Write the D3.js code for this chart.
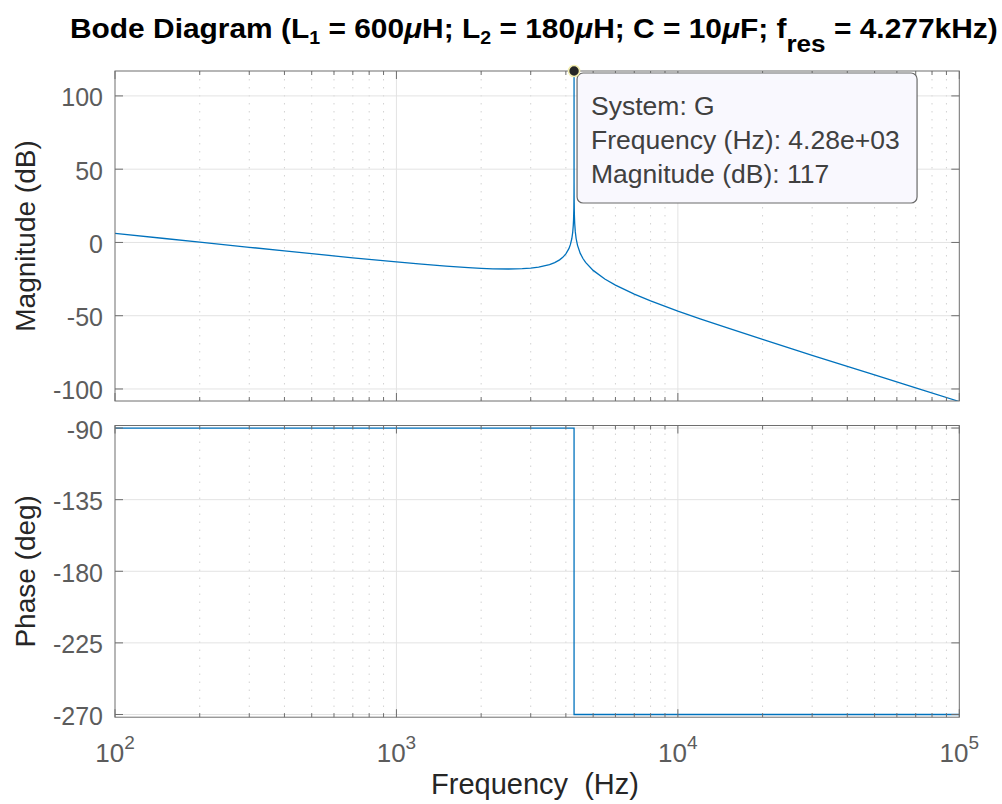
<!DOCTYPE html>
<html><head><meta charset="utf-8">
<script src="https://cdn.jsdelivr.net/npm/d3@7"></script>
<style>body{margin:0;background:#fff} svg{display:block}</style>
</head><body><svg id="c" width="1002" height="804"></svg>
<script>
// ---- data ----
const freqHz = [100,150,200,300,400,500,700,1000,1200,1500,1800,2000,2200,2500,2800,3000,3200,3500,3650,3800,3900,4000,4100,4150,4200,4230,4250,4260,4270,4275,4276,4277,4278,4280,4285,4290,4300,4320,4350,4400,4500,4600,4700,5000,5500,6000,7000,8000,10000,12000,15000,20000,30000,40000,50000,70000,100000];
const magDb = [6.20,2.68,0.19,-3.30,-5.77,-7.66,-10.47,-13.32,-14.68,-16.19,-17.22,-17.68,-17.98,-18.13,-17.89,-17.46,-16.78,-15.07,-13.73,-11.87,-10.16,-7.81,-4.24,-1.51,2.68,6.88,11.63,15.62,23.3,34.16,40.2,117,40.2,30.6,22.1,17.86,12.87,7.38,2.69,-1.99,-7.46,-10.96,-13.59,-19.07,-24.92,-29.09,-35.21,-39.82,-46.81,-52.13,-58.35,-66.22,-77.01,-84.58,-90.43,-99.24,-108.54];
const phaseFreqHz = [100,4277,4277,100000];
const phaseDeg = [-90,-90,-270,-270];
const magTicks = [-100,-50,0,50,100];
const phaseTicks = [-270,-225,-180,-135,-90];
const decadeTicks = [100,1000,10000,100000];
const decadeExp = ["2","3","4","5"];
const tipFreq = 4277, tipMag = 117;
const tipLines = ["System: G","Frequency (Hz): 4.28e+03","Magnitude (dB): 117"];

// ---- layout ----
const svg = d3.select("#c");
const L = 115, R = 959.3;
const top1 = 71, bot1 = 401, top2 = 425.5, bot2 = 717.2;
const x = d3.scaleLog().domain([100,100000]).range([L,R]);
const y1 = d3.scaleLinear().domain([-108.2,117]).range([bot1,top1]);
const y2 = d3.scaleLinear().domain([-271.7,-88.4]).range([bot2,top2]);

const axisCol = "#6e6e6e", tickTxt = "#5c5c5c", gridCol = "#e3e3e3", minorCol = "#d2d2d2";
const blue = "#0072BD";
const font = "'Liberation Sans', Arial, Helvetica, sans-serif";

const defs = svg.append("defs");
defs.append("clipPath").attr("id","clip1").append("rect").attr("x",L).attr("y",top1-1).attr("width",R-L).attr("height",bot1-top1+1);
defs.append("clipPath").attr("id","clip2").append("rect").attr("x",L).attr("y",top2).attr("width",R-L).attr("height",bot2-top2);

const minorTicks = x.ticks().filter(v => decadeTicks.indexOf(v) < 0 && v > 100 && v < 100000);

function panel(yS, top, bot, yTicks) {
  const g = svg.append("g");
  g.selectAll(".mg").data(minorTicks).enter().append("line")
    .attr("x1",d=>x(d)).attr("x2",d=>x(d)).attr("y1",top).attr("y2",bot)
    .attr("stroke",minorCol).attr("stroke-width",1).attr("stroke-dasharray","1.5,6.5");
  g.selectAll(".Mg").data(decadeTicks.slice(1,-1)).enter().append("line")
    .attr("x1",d=>x(d)).attr("x2",d=>x(d)).attr("y1",top).attr("y2",bot)
    .attr("stroke",gridCol).attr("stroke-width",1);
  g.selectAll(".hg").data(yTicks).enter().append("line")
    .attr("x1",L).attr("x2",R).attr("y1",d=>yS(d)).attr("y2",d=>yS(d))
    .attr("stroke",gridCol).attr("stroke-width",1);
  return g;
}
function frame(yS, top, bot, yTicks) {
  const g = svg.append("g").attr("stroke",axisCol).attr("stroke-width",1);
  g.append("rect").attr("x",L).attr("y",top).attr("width",R-L).attr("height",bot-top).attr("fill","none");
  yTicks.forEach(v => {
    g.append("line").attr("x1",L).attr("x2",L+8).attr("y1",yS(v)).attr("y2",yS(v));
    g.append("line").attr("x1",R-8).attr("x2",R).attr("y1",yS(v)).attr("y2",yS(v));
  });
  decadeTicks.forEach(v => {
    g.append("line").attr("x1",x(v)).attr("x2",x(v)).attr("y1",top).attr("y2",top+8);
    g.append("line").attr("x1",x(v)).attr("x2",x(v)).attr("y1",bot-8).attr("y2",bot);
  });
  minorTicks.forEach(v => {
    g.append("line").attr("x1",x(v)).attr("x2",x(v)).attr("y1",top).attr("y2",top+4);
    g.append("line").attr("x1",x(v)).attr("x2",x(v)).attr("y1",bot-4).attr("y2",bot);
  });
  svg.append("g").selectAll("text").data(yTicks).enter().append("text")
    .attr("x",L-12).attr("y",d=>yS(d)).attr("dy","0.42em")
    .attr("text-anchor","end").attr("font-family",font).attr("font-size",25)
    .attr("fill",tickTxt).text(d=>d);
}

panel(y1, top1, bot1, magTicks);
panel(y2, top2, bot2, phaseTicks);

const magData = freqHz.map((f,i)=>[f,magDb[i]]);
svg.append("path").datum(magData).attr("clip-path","url(#clip1)")
  .attr("d", d3.line().x(d=>x(d[0])).y(d=>y1(d[1])))
  .attr("fill","none").attr("stroke",blue).attr("stroke-width",1.3);
const phData = phaseFreqHz.map((f,i)=>[f,phaseDeg[i]]);
svg.append("path").datum(phData).attr("clip-path","url(#clip2)")
  .attr("d", d3.line().x(d=>x(d[0])).y(d=>y2(d[1])))
  .attr("fill","none").attr("stroke",blue).attr("stroke-width",1.3);

frame(y1, top1, bot1, magTicks);
frame(y2, top2, bot2, phaseTicks);

const xl = svg.append("g").attr("font-family",font).attr("fill",tickTxt);
decadeTicks.forEach((v,i) => {
  const t = xl.append("text").attr("x",x(v)).attr("y",762).attr("text-anchor","middle").attr("font-size",26);
  t.append("tspan").text("10");
  t.append("tspan").attr("dy",-13).attr("font-size",19).text(decadeExp[i]);
});

svg.append("text").attr("x",535).attr("y",794).attr("text-anchor","middle")
  .attr("font-family",font).attr("font-size",29).attr("fill","#262626").style("white-space","pre").text("Frequency  (Hz)");
svg.append("text").attr("transform",`translate(35,${(top1+bot1)/2}) rotate(-90)`).attr("text-anchor","middle")
  .attr("font-family",font).attr("font-size",28).attr("fill","#262626").text("Magnitude (dB)");
svg.append("text").attr("transform",`translate(35,${(top2+bot2)/2}) rotate(-90)`).attr("text-anchor","middle")
  .attr("font-family",font).attr("font-size",28).attr("fill","#262626").text("Phase (deg)");

// title
const title = svg.append("text").attr("x",0).attr("y",0)
  .attr("font-family","'Liberation Sans Narrow', 'Liberation Sans', Arial, sans-serif")
  .attr("font-weight","bold").attr("font-size",27.5).attr("fill","#000");
const parts = [
  ["Bode Diagram (L",0,null,false],["1",6,18,false],[" = 600",-6,null,false],["\u03BC",0,null,true],["H; L",0,null,false],
  ["2",6,18,false],[" = 180",-6,null,false],["\u03BC",0,null,true],["H; C = 10",0,null,false],["\u03BC",0,null,true],
  ["F; f",0,null,false],["res",14,24,false],[" = 4.277kHz)",-14,null,false]
];
parts.forEach(p => {
  const ts = title.append("tspan").attr("dy",p[1]).text(p[0]).style("white-space","pre");
  if (p[2]) ts.attr("font-size",p[2]);
  if (p[3]) ts.attr("font-style","italic");
});
const bb = title.node().getBBox();
const sx = 928 / bb.width;
title.attr("transform",`translate(70,38) scale(${sx},1) translate(${-bb.x},0)`);

// data tip
const mx = x(tipFreq), my = y1(tipMag);
const tip = svg.append("g");
tip.append("rect").attr("x",mx+3).attr("y",my+2).attr("width",340).attr("height",130).attr("rx",6)
  .attr("fill","#f9f8fe").attr("stroke","#6a6a6a").attr("stroke-width",1.2);
tipLines.forEach((s,i) => {
  tip.append("text").attr("x",mx+17).attr("y",my+44+i*34).attr("font-family",font).attr("font-size",26.5)
    .attr("fill","#404040").text(s);
});
svg.append("circle").attr("cx",mx).attr("cy",my).attr("r",5.5).attr("fill","#262626")
  .attr("stroke","#f3eeb0").attr("stroke-width",1.6);
</script></body></html>
